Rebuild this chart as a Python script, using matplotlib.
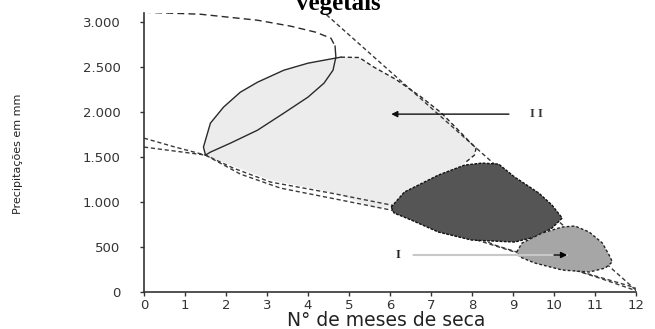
import numpy as np
import matplotlib
matplotlib.use("Agg")
import matplotlib.pyplot as plt

# outline of the large loop (dashed top part, solid lower-right part)
loop_dash_x = [0, 1.37, 2.77, 3.58, 4.19, 4.56, 4.66]
loop_dash_y = [3108, 3086, 3019, 2953, 2886, 2819, 2731]
loop_solid_x = [4.66, 4.68, 4.61, 4.39, 4.00, 3.41, 2.77, 2.11, 1.62, 1.50]
loop_solid_y = [2731, 2609, 2464, 2320, 2165, 1987, 1798, 1654, 1554, 1521]

# region II (light grey)
reg2_x = [1.50, 1.45, 1.62, 1.94, 2.35, 2.77, 3.41, 4.00, 4.39, 4.80, 5.25, 5.60, 6.15,
          6.75, 7.25, 7.62, 7.96, 8.10, 8.06, 7.82, 7.25, 6.27, 5.66, 4.56, 3.09, 2.18]
reg2_y = [1521, 1610, 1876, 2054, 2220, 2331, 2464, 2542, 2575, 2609, 2605, 2500, 2360,
          2170, 1990, 1820, 1660, 1598, 1521, 1432, 1132, 944, 932, 1110, 1243, 1399]

# dark region
dark_x = [6.03, 6.35, 7.18, 7.82, 8.24, 8.65, 9.04, 9.63, 9.95, 10.20, 9.95, 9.53, 9.04,
          7.99, 7.18, 6.52, 6.10]
dark_y = [944, 1110, 1299, 1410, 1432, 1421, 1277, 1099, 966, 821, 710, 611, 555,
          577, 666, 799, 877]

# region I (mid grey)
reg1_x = [9.09, 9.22, 9.71, 10.20, 10.51, 10.86, 11.18, 11.37, 11.42, 11.25, 10.86, 10.20,
          9.53, 9.17]
reg1_y = [444, 544, 655, 722, 733, 666, 544, 389, 333, 266, 222, 244, 322, 389]

# straight dashed limit line
diag_x = [4.45, 12.0]
diag_y = [3080, 20]

# two lower dashed limit curves
low1_x = [0, 0.76, 1.50, 2.18, 3.09, 4.56, 6.03, 7.50, 8.55, 9.71, 10.76, 11.84, 12.0]
low1_y = [1709, 1610, 1521, 1376, 1221, 1099, 966, 733, 522, 355, 211, 67, 40]
low2_x = [0, 0.76, 1.50, 2.35, 3.33, 4.56, 6.03, 7.50, 8.97, 10.20, 11.18, 12.0]
low2_y = [1610, 1565, 1521, 1310, 1154, 1043, 910, 666, 455, 289, 144, 15]

x_ticks = list(range(0, 13))
y_ticks = [0, 500, 1000, 1500, 2000, 2500, 3000]
y_tick_labels = ["0", "500", "1.000", "1.500", "2.000", "2.500", "3.000"]

fig = plt.figure(figsize=(6.55, 3.29), dpi=100)
ax = fig.add_axes([144 / 655, 37 / 329, 492 / 655, 279.5 / 329])

edge = "#2a2a2a"
dash = (0, (3, 2))

ax.fill(reg2_x, reg2_y, color="#ececec", lw=0, zorder=1)
ax.plot(reg2_x[:10], reg2_y[:10], color=edge, lw=1.0, zorder=3)
ax.plot(reg2_x[9:20], reg2_y[9:20], color=edge, lw=1.0, ls=dash, zorder=3)

ax.plot(low1_x, low1_y, color="#3a3a3a", lw=1.0, ls=dash, zorder=2)
ax.plot(low2_x, low2_y, color="#3a3a3a", lw=1.0, ls=dash, zorder=2)
ax.plot(diag_x, diag_y, color="#3a3a3a", lw=1.0, ls=dash, zorder=2)

ax.fill(dark_x, dark_y, facecolor="#555555", edgecolor="#111111", lw=1.0,
        ls=(0, (2, 1)), joinstyle="round", zorder=4)
ax.fill(reg1_x, reg1_y, facecolor="#a6a6a6", edgecolor="#222222", lw=1.0,
        ls=(0, (2, 1.5)), joinstyle="round", zorder=5)

ax.plot(loop_dash_x, loop_dash_y, color=edge, lw=1.0, ls=(0, (5, 3)), zorder=3)
ax.plot(loop_solid_x, loop_solid_y, color=edge, lw=1.0, zorder=3)

# arrows and labels
ax.annotate("", xy=(6.03, 1976), xytext=(8.90, 1976), zorder=6,
            arrowprops=dict(arrowstyle="-|>", color="#111111", lw=1.0,
                            mutation_scale=9, shrinkA=0, shrinkB=0))
ax.text(9.58, 1976, "I I", ha="center", va="center", fontsize=9,
        family="Liberation Serif", fontweight="bold", color="#333333")
ax.annotate("", xy=(10.32, 411), xytext=(6.57, 411), zorder=6,
            arrowprops=dict(arrowstyle="-", color="#c8c8c8", lw=1.5,
                            shrinkA=0, shrinkB=0))
ax.annotate("", xy=(10.32, 411), xytext=(10.0, 411), zorder=7,
            arrowprops=dict(arrowstyle="-|>", color="#000000", lw=1.0,
                            mutation_scale=9, shrinkA=0, shrinkB=0))
ax.text(6.2, 411, "I", ha="center", va="center", fontsize=9,
        family="Liberation Serif", fontweight="bold", color="#222222")

ax.set_xlim(0, 12)
ax.set_ylim(0, 3105)
ax.set_xticks(x_ticks)
ax.set_yticks(y_ticks)
ax.set_yticklabels(y_tick_labels)
for side in ["top", "right"]:
    ax.spines[side].set_visible(False)
for side in ["left", "bottom"]:
    ax.spines[side].set_color("#333333")
    ax.spines[side].set_linewidth(1.2)
ax.tick_params(axis="y", direction="out", length=3, width=1, pad=14,
               labelsize=9.5, colors="#333333")
ax.tick_params(axis="x", direction="out", length=3, width=1, pad=2,
               labelsize=9.5, colors="#333333")

# title is cut by the top edge, as in the source image
fig.text(338 / 655, 1 - 10 / 329, "vegetais", ha="center", va="baseline",
         fontsize=18, fontweight="bold", family="Liberation Serif")
fig.text(18 / 655, 1 - 154 / 329, "Precipitações em mm", rotation=90,
         ha="center", va="center", fontsize=8, color="#222222")
fig.text(386 / 655, 1 - 320 / 329, "N° de meses de seca", ha="center",
         va="center", fontsize=13.5, color="#222222")

fig.savefig("out.png", dpi=100)
